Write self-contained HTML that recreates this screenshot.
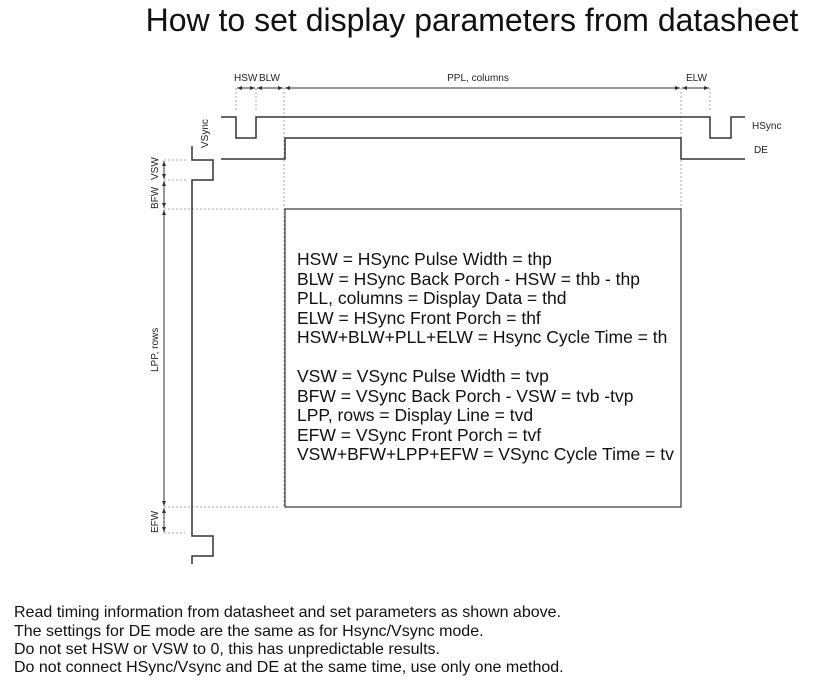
<!DOCTYPE html>
<html><head><style>
body{margin:0;background:#fff;width:813px;height:685px;overflow:hidden;font-family:"Liberation Sans",sans-serif}
</style></head><body>
<svg width="813" height="685" xmlns="http://www.w3.org/2000/svg" font-family="Liberation Sans, sans-serif">
<defs><marker id="a" markerWidth="6" markerHeight="6" refX="5" refY="3" orient="auto-start-reverse"><path d="M0,1 L5,3 L0,5z" fill="#333"/></marker></defs>
<text x="472" y="31" font-size="32" text-anchor="middle" fill="#111">How to set display parameters from datasheet</text>
<g stroke="#aaa" stroke-dasharray="2,2" stroke-width="1">
<line x1="236" y1="88" x2="236" y2="112"/><line x1="256" y1="88" x2="256" y2="112"/>
<line x1="284" y1="88" x2="284" y2="508"/><line x1="681" y1="88" x2="681" y2="508"/>
<line x1="710" y1="88" x2="710" y2="110"/>
<line x1="164" y1="160" x2="186" y2="160"/><line x1="164" y1="180" x2="186" y2="180"/>
<line x1="164" y1="209" x2="278" y2="209"/><line x1="164" y1="507" x2="278" y2="507"/>
<line x1="164" y1="533" x2="185" y2="533"/>
</g>
<g stroke="#333" stroke-width="1" marker-start="url(#a)" marker-end="url(#a)">
<line x1="237" y1="88" x2="255" y2="88"/><line x1="257" y1="88" x2="283" y2="88"/>
<line x1="285" y1="88" x2="680" y2="88"/><line x1="682" y1="88" x2="709" y2="88"/>
<line x1="164" y1="161" x2="164" y2="179"/><line x1="164" y1="181" x2="164" y2="208"/>
<line x1="164" y1="210" x2="164" y2="506"/><line x1="164" y1="508" x2="164" y2="532"/>
</g>
<g fill="none" stroke="#333" stroke-width="1.5">
<polyline points="221,117 236,117 236,138 256,138 256,117 710,117 710,138 731,138 731,117 745,117"/>
<polyline points="221,159 285,159 285,138 681,138 681,159 745,159"/>
<polyline points="192,146 192,160 213,160 213,180 192,180 192,536 213,536 213,556 192,556 192,564"/>
<rect x="285" y="209" width="396" height="298" stroke-width="1.2"/>
</g>
<g font-size="10" fill="#222">
<text x="234" y="81">HSW</text><text x="259" y="81">BLW</text>
<text x="478" y="81" text-anchor="middle">PPL, columns</text>
<text x="686" y="81">ELW</text>
<text x="752" y="129">HSync</text><text x="754" y="153">DE</text>
<text transform="translate(208,148) rotate(-90)">VSync</text>
<text transform="translate(158,180) rotate(-90)">VSW</text>
<text transform="translate(158,209) rotate(-90)">BFW</text>
<text transform="translate(158,372) rotate(-90)">LPP, rows</text>
<text transform="translate(158,533) rotate(-90)">EFW</text>
</g>
<g font-size="17.5" fill="#111">
<text x="297" y="265">HSW = HSync Pulse Width = thp</text>
<text x="297" y="285">BLW = HSync Back Porch - HSW = thb - thp</text>
<text x="297" y="304">PLL, columns = Display Data = thd</text>
<text x="297" y="324">ELW = HSync Front Porch = thf</text>
<text x="297" y="343">HSW+BLW+PLL+ELW = Hsync Cycle Time = th</text>
<text x="297" y="382">VSW = VSync Pulse Width = tvp</text>
<text x="297" y="402">BFW = VSync Back Porch - VSW = tvb -tvp</text>
<text x="297" y="421">LPP, rows = Display Line = tvd</text>
<text x="297" y="441">EFW = VSync Front Porch = tvf</text>
<text x="297" y="460">VSW+BFW+LPP+EFW = VSync Cycle Time = tv</text>
</g>
<g font-size="16" fill="#111">
<text x="14" y="617">Read timing information from datasheet and set parameters as shown above.</text>
<text x="14" y="636">The settings for DE mode are the same as for Hsync/Vsync mode.</text>
<text x="14" y="654">Do not set HSW or VSW to 0, this has unpredictable results.</text>
<text x="14" y="672">Do not connect HSync/Vsync and DE at the same time, use only one method.</text>
</g>
</svg>
</body></html>
